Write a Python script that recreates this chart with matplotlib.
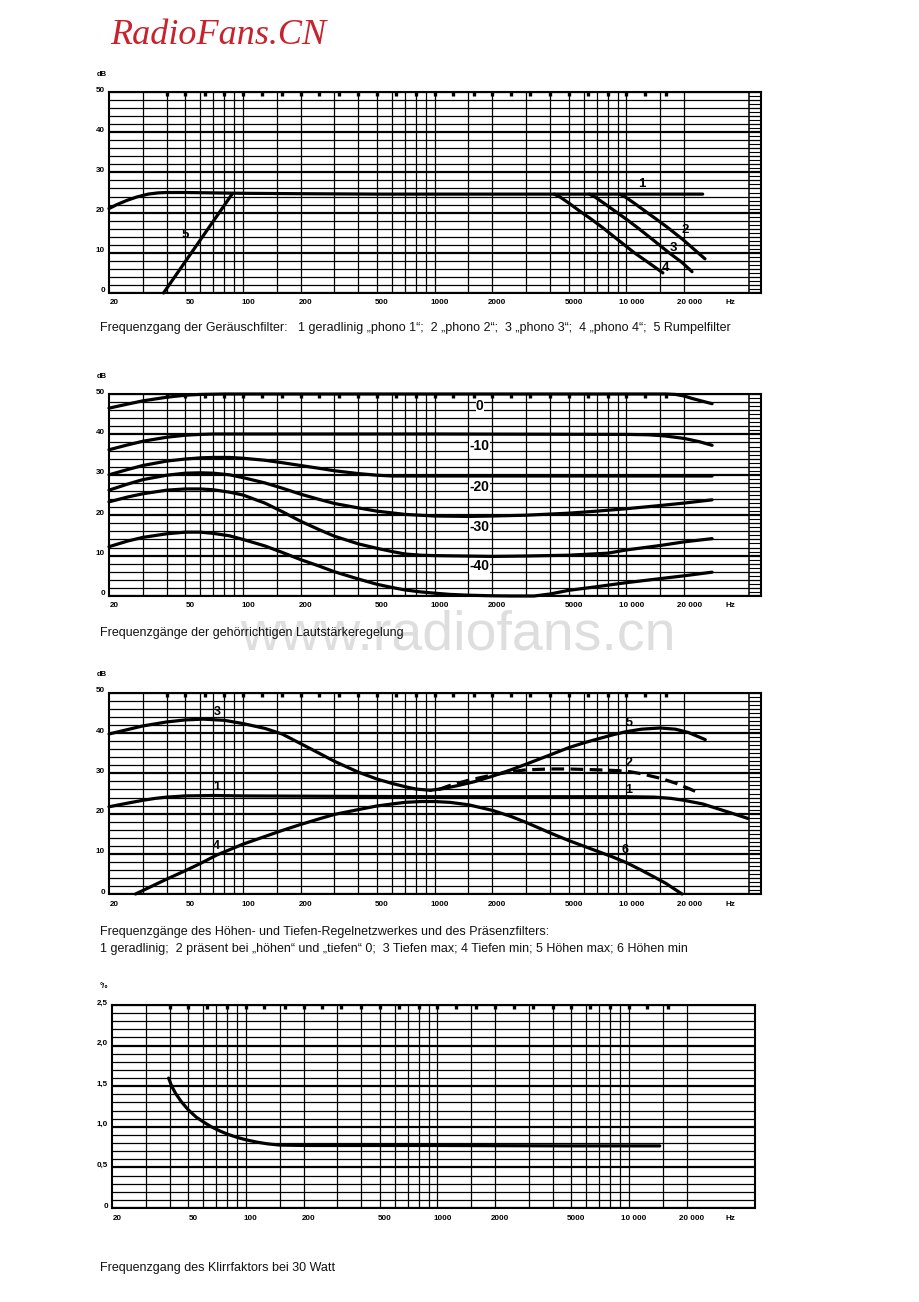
import numpy as np
import matplotlib
matplotlib.use('Agg')
import matplotlib.pyplot as plt
from matplotlib.ticker import NullLocator
from matplotlib.transforms import blended_transform_factory

plt.rcParams['font.family'] = ['Liberation Sans', 'DejaVu Sans']

W, H = 920, 1302

# log paper
grid_freqs = [30, 40, 50, 60, 70, 80, 90, 100, 150, 200, 300, 400, 500, 600, 700, 800, 900,
              1000, 1500, 2000, 3000, 4000, 5000, 6000, 7000, 8000, 9000, 10000, 15000, 20000]
third_oct = [40, 50, 63, 80, 100, 125, 160, 200, 250, 315, 400, 500, 630, 800, 1000, 1250,
             1600, 2000, 2500, 3150, 4000, 5000, 6300, 8000, 10000, 12500, 16000]
xlab_freqs = [20, 50, 100, 200, 500, 1000, 2000, 5000, 10000, 20000]
xlab_text = ['20', '50', '100', '200', '500', '1000', '2000', '5000', '10 000', '20 000']
db_ticks = [0, 10, 20, 30, 40, 50]
db_labels = ['0', '10', '20', '30', '40', '50']
k_ticks = [0, 0.5, 1.0, 1.5, 2.0, 2.5]
k_labels = ['0', '0,5', '1,0', '1,5', '2,0', '2,5']

# panel 1: Geräuschfilter
p1_c1_f = [20, 22, 25, 28, 32, 36, 40, 50, 70, 100, 200, 500, 1000, 2000, 5000, 10000, 20000, 25000]
p1_c1_v = [21.0, 22.0, 23.1, 23.9, 24.6, 24.9, 25.0, 25.0, 24.9, 24.8, 24.7, 24.6, 24.6, 24.6, 24.6, 24.6, 24.6, 24.6]
p1_c5_f = [38.5, 88]
p1_c5_v = [0, 24.7]
p1_c4_f = [4200, 4500, 5000, 5700, 6500, 7500, 9000, 11000, 13000, 15500]
p1_c4_v = [24.6, 23.9, 22.4, 20.4, 18.5, 16.3, 13.3, 10.0, 7.6, 5.0]
p1_c3_f = [6400, 6850, 7600, 8700, 9900, 11400, 13700, 16700, 19500, 22000]
p1_c3_v = [24.6, 23.9, 22.4, 20.4, 18.5, 16.3, 13.3, 10.0, 7.6, 5.3]
p1_c2_f = [9200, 9850, 10950, 12500, 14200, 16400, 19700, 25700]
p1_c2_v = [24.6, 23.9, 22.4, 20.4, 18.5, 16.3, 13.3, 8.5]
p1_lab = ['1', '2', '3', '4', '5']
p1_lab_f = [12000, 20300, 17500, 15900, 50]
p1_lab_v = [27.0, 15.7, 11.2, 6.3, 14.4]

# panel 2: gehörrichtige Lautstärke
p2_f0 = [20, 25, 30, 40, 50, 60, 80, 100, 1000, 10000, 16000, 18000, 20000, 22000, 25000, 28000]
p2_v0 = [46.5, 47.5, 48.3, 49.2, 49.7, 49.9, 50, 50, 50, 50, 50, 49.9, 49.5, 48.9, 48.2, 47.6]
p2_f10 = [20, 25, 30, 40, 50, 60, 70, 100, 1000, 10000, 13000, 16000, 20000, 24000, 28000]
p2_v10 = [36.2, 37.4, 38.3, 39.3, 39.8, 40.0, 40.1, 40.1, 40.1, 40.0, 39.9, 39.6, 39.0, 38.2, 37.3]
p2_f20 = [20, 25, 30, 40, 50, 60, 70, 85, 100, 130, 160, 200, 250, 300, 400, 500, 600, 800, 1000, 10000, 28000]
p2_v20 = [30.0, 31.3, 32.3, 33.4, 33.9, 34.2, 34.3, 34.3, 34.1, 33.6, 33.0, 32.3, 31.6, 31.0, 30.3, 29.9, 29.7, 29.7, 29.7, 29.7, 29.7]
p2_f30 = [20, 25, 30, 40, 50, 60, 70, 85, 100, 130, 160, 200, 250, 300, 400, 500, 700, 1000, 1500, 2000,
          3000, 5000, 7000, 10000, 15000, 20000, 28000]
p2_v30 = [26.2, 27.7, 28.8, 29.9, 30.4, 30.5, 30.4, 30.0, 29.3, 28.0, 26.7, 25.2, 23.9, 22.9, 21.8, 21.0,
          20.2, 19.8, 19.7, 19.8, 20.0, 20.5, 21.0, 21.6, 22.4, 23.0, 23.8]
p2_f40 = [20, 25, 30, 40, 50, 60, 70, 85, 100, 130, 160, 200, 250, 300, 400, 500, 600, 700, 850, 1000,
          2000, 3000, 5000, 8000, 10000, 15000, 20000, 28000]
p2_v40 = [23.3, 24.5, 25.3, 26.2, 26.5, 26.5, 26.3, 25.7, 25.0, 23.0, 20.9, 18.5, 16.4, 14.8, 12.9, 11.8,
          11.0, 10.4, 10.1, 10.0, 9.8, 9.9, 10.1, 10.6, 11.4, 12.5, 13.4, 14.2]
p2_f50 = [20, 25, 30, 40, 50, 60, 70, 85, 100, 130, 160, 200, 250, 300, 400, 500, 600, 700, 850, 1000,
          1200, 1500, 2000, 2500, 3300, 4000, 5000, 7000, 10000, 15000, 20000, 28000]
p2_v50 = [12.2, 13.6, 14.5, 15.4, 15.8, 15.8, 15.5, 14.9, 14.0, 12.4, 10.8, 9.0, 7.4, 6.0, 4.2, 2.9,
          2.1, 1.5, 1.0, 0.7, 0.4, 0.2, 0.05, 0, 0, 0.5, 1.4, 2.3, 3.3, 4.3, 5.0, 5.9]
p2_lab = ['0', '-10', '-20', '-30', '-40']
p2_lab_v = [47.0, 37.1, 27.0, 17.1, 7.4]

# panel 3: Höhen / Tiefen / Präsenz
p3_c1_f = [20, 25, 30, 35, 40, 50, 70, 100, 300, 1000, 3000, 10000, 14000, 17000, 20000, 25000, 30000, 36000, 43000]
p3_c1_v = [21.7, 22.6, 23.3, 23.8, 24.1, 24.4, 24.5, 24.4, 24.3, 24.2, 24.2, 24.2, 24.1, 23.8, 23.3, 22.4, 21.2, 20.0, 18.8]
p3_c3_f = [20, 25, 30, 40, 50, 62, 80, 100, 130, 160, 200, 250, 300, 400, 500, 600, 700, 800, 950]
p3_c3_v = [39.8, 40.9, 41.8, 42.8, 43.3, 43.5, 43.2, 42.4, 41.2, 39.8, 37.4, 35.0, 33.0, 30.3, 28.6, 27.5, 26.7, 26.1, 25.8]
p3_c5_f = [950, 1100, 1300, 1600, 2000, 2500, 3000, 4000, 5000, 6000, 7000, 8500, 10000, 12000, 15000, 18000, 21000, 25800]
p3_c5_v = [25.8, 26.2, 26.9, 27.9, 29.3, 30.9, 32.3, 34.6, 36.4, 37.6, 38.5, 39.6, 40.4, 41.0, 41.3, 41.0, 40.2, 38.4]
p3_c2_f = [1050, 1200, 1500, 2000, 2500, 3000, 4000, 5000, 7000, 9000, 10500, 12000, 15000, 18000, 21000, 23500]
p3_c2_v = [26.0, 27.0, 28.3, 29.6, 30.4, 30.9, 31.1, 31.1, 30.9, 30.7, 30.4, 29.9, 28.8, 27.6, 26.3, 25.3]
p3_c4_f = [27.5, 32, 40, 50, 60, 73, 85, 100, 130, 160, 200, 250, 300, 400, 500, 600, 700, 850]
p3_c4_v = [0, 1.5, 3.7, 5.8, 7.6, 9.7, 11.0, 12.4, 14.3, 15.8, 17.3, 18.7, 19.8, 21.0, 21.9, 22.4, 22.8, 23.0]
p3_c6_f = [850, 1000, 1200, 1500, 2000, 2500, 3000, 4000, 5000, 6000, 7000, 8500, 10000, 12000, 14000, 16000, 19500]
p3_c6_v = [23.0, 23.0, 22.8, 22.2, 20.8, 19.3, 17.8, 15.2, 13.3, 11.9, 10.7, 9.2, 7.8, 5.9, 4.2, 2.7, 0]
p3_lab = ['3', '1', '4', '5', '2', '1', '6']
p3_lab_f = [73, 73, 73, 10300, 10300, 10300, 9800]
p3_lab_v = [45.3, 26.5, 12.0, 42.6, 32.5, 25.9, 10.9]

# panel 4: Klirrfaktor
p4_f = [39.5, 41, 43, 46, 50, 55, 60, 66, 73, 80, 90, 100, 115, 130, 150, 200, 1000, 5000, 10000, 14500]
p4_v = [1.60, 1.50, 1.41, 1.31, 1.21, 1.12, 1.06, 1.00, 0.95, 0.91, 0.87, 0.84, 0.81, 0.79, 0.775, 0.77, 0.77, 0.765, 0.765, 0.765]

fig = plt.figure(figsize=(W / 100, H / 100), dpi=100)
fig.patch.set_facecolor('white')


def panel(l, t, r, b, xmax, ymax, ticks, labels, unit, strip=True):
    ax = fig.add_axes([l / W, 1 - b / H, (r - l) / W, (b - t) / H])
    ax.set_xscale('log')
    ax.set_xlim(20, xmax)
    ax.set_ylim(0, ymax)
    ax.xaxis.set_major_locator(NullLocator())
    ax.xaxis.set_minor_locator(NullLocator())
    ax.set_yticks([])
    for s in ax.spines.values():
        s.set_linewidth(1.5)
    step = ymax / 25
    tr = blended_transform_factory(ax.transAxes, ax.transData)
    for i in range(26):
        lw = 1.6 if i % 5 == 0 else 0.9
        ax.axhline(i * step, color='k', lw=lw, zorder=1)
    for f in grid_freqs:
        ax.axvline(f, color='k', lw=0.9, zorder=1)
    if strip:
        sx = (749 - l) / (r - l)
        ax.plot([sx, sx], [0, ymax], color='k', lw=1.1, transform=tr, zorder=1)
        for i in range(25):
            ax.plot([sx, 1], [(i + 0.5) * step] * 2, color='k', lw=0.8, transform=tr, zorder=1)
    ax.vlines(third_oct, ymax * 0.978, ymax, color='k', lw=2.4, zorder=2)
    for f, s in zip(xlab_freqs, xlab_text):
        ax.annotate(s, (f, 0), xycoords=('data', 'axes fraction'), xytext=(5, -10),
                    textcoords='offset pixels', ha='center', va='center',
                    fontsize=5.8, fontweight='bold')
    ax.text((730 - l) / (r - l), -10 / (b - t), 'Hz', transform=ax.transAxes,
            ha='center', va='center', fontsize=5.8, fontweight='bold')
    for v, s in zip(ticks, labels):
        ax.annotate(s, (0, v), xycoords=('axes fraction', 'data'), xytext=(-4, 2),
                    textcoords='offset pixels', ha='right', va='center',
                    fontsize=5.8, fontweight='bold')
    ax.text(-12 / (r - l), 1 + 18 / (b - t), unit, transform=ax.transAxes,
            ha='left', va='center', fontsize=5.5, fontweight='bold')
    return ax


def curve(ax, f, v, **kw):
    ax.plot(f, v, color='k', lw=2.3, solid_capstyle='round', clip_on=False, zorder=4, **kw)


XMAX = 20 * 10 ** (652 / 191.7)

ax1 = panel(109, 92, 761, 293, XMAX, 50, db_ticks, db_labels, 'dB')
curve(ax1, p1_c1_f, p1_c1_v)
curve(ax1, p1_c5_f, p1_c5_v)
curve(ax1, p1_c4_f, p1_c4_v)
curve(ax1, p1_c3_f, p1_c3_v)
curve(ax1, p1_c2_f, p1_c2_v)
for s, f, v in zip(p1_lab, p1_lab_f, p1_lab_v):
    ax1.text(f, v, s, ha='center', va='center', fontsize=9.5, fontweight='bold', zorder=5)

ax2 = panel(109, 394, 761, 596, XMAX, 50, db_ticks, db_labels, 'dB')
for f, v in [(p2_f0, p2_v0), (p2_f10, p2_v10), (p2_f20, p2_v20),
             (p2_f30, p2_v30), (p2_f40, p2_v40), (p2_f50, p2_v50)]:
    curve(ax2, f, v)
for s, v in zip(p2_lab, p2_lab_v):
    ax2.text(1720, v, s, ha='center', va='center', fontsize=10, fontweight='bold', zorder=5,
             bbox=dict(facecolor='white', edgecolor='none', pad=0.3))

ax3 = panel(109, 693, 761, 894, XMAX, 50, db_ticks, db_labels, 'dB')
curve(ax3, p3_c1_f, p3_c1_v)
curve(ax3, p3_c3_f, p3_c3_v)
curve(ax3, p3_c5_f, p3_c5_v)
curve(ax3, p3_c4_f, p3_c4_v)
curve(ax3, p3_c6_f, p3_c6_v)
ax3.plot(p3_c2_f, p3_c2_v, color='k', lw=2.3, ls=(0, (4, 2)), zorder=4)
for s, f, v in zip(p3_lab, p3_lab_f, p3_lab_v):
    ax3.text(f, v, s, ha='center', va='center', fontsize=9, fontweight='bold', zorder=5)

XMAX4 = 20 * 10 ** (643 / 191.5)
ax4 = panel(112, 1005, 755, 1208, XMAX4, 2.5, k_ticks, k_labels, '°/₀', strip=False)
curve(ax4, p4_f, p4_v)

cap = dict(fontsize=9.0, va='center', ha='left', color='#111111')
fig.text(100 / W, 1 - 328 / H, 'Frequenzgang der Geräuschfilter:', **cap)
fig.text(298 / W, 1 - 328 / H,
         '1 geradlinig „phono 1“;  2 „phono 2“;  3 „phono 3“;  4 „phono 4“;  5 Rumpelfilter', **cap)
fig.text(100 / W, 1 - 633 / H, 'Frequenzgänge der gehörrichtigen Lautstärkeregelung', **cap)
fig.text(100 / W, 1 - 932 / H,
         'Frequenzgänge des Höhen- und Tiefen-Regelnetzwerkes und des Präsenzfilters:', **cap)
fig.text(100 / W, 1 - 949 / H,
         '1 geradlinig;  2 präsent bei „höhen“ und „tiefen“ 0;  3 Tiefen max; 4 Tiefen min; 5 Höhen max; 6 Höhen min',
         **cap)
fig.text(100 / W, 1 - 1268 / H, 'Frequenzgang des Klirrfaktors bei 30 Watt', **cap)

fig.text(110 / W, 1 - 35 / H, 'RadioFans.CN', fontsize=26, style='italic',
         family='Liberation Serif', color='#c8232c', ha='left', va='center')
fig.text(458 / W, 1 - 636 / H, 'www.radiofans.cn', fontsize=40, color='#dedede',
         ha='center', va='center', zorder=0)

fig.savefig('out.png', dpi=100)
